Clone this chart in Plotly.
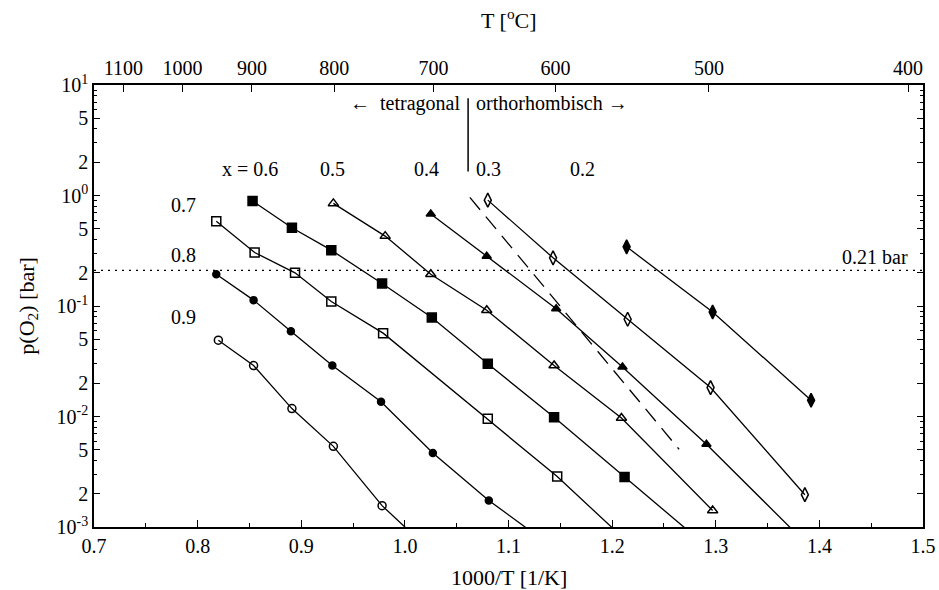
import math
import plotly.graph_objects as go

# ---- data (1000/T in 1/K, p(O2) in bar) ----
x09 = [0.820, 0.854, 0.891, 0.931, 0.978, 1.030]
p09 = [0.049, 0.0289, 0.0118, 0.00537, 0.00156, 0.000546]
x08 = [0.818, 0.854, 0.890, 0.930, 0.977, 1.027, 1.081, 1.135]
p08 = [0.194, 0.113, 0.0592, 0.029, 0.0136, 0.00467, 0.00174, 0.00074]
x07 = [0.818, 0.855, 0.894, 0.929, 0.979, 1.080, 1.147, 1.215]
p07 = [0.586, 0.305, 0.1995, 0.110, 0.0568, 0.00953, 0.00286, 0.00073]
x06 = [0.853, 0.891, 0.929, 0.978, 1.026, 1.080, 1.144, 1.212, 1.280]
p06 = [0.893, 0.51, 0.32, 0.16, 0.0787, 0.030, 0.00984, 0.00284, 0.00082]
x05 = [0.931, 0.981, 1.025, 1.079, 1.144, 1.209, 1.297]
p05 = [0.848, 0.429, 0.194, 0.0916, 0.0289, 0.00968, 0.00141]
x04 = [1.025, 1.079, 1.146, 1.210, 1.291, 1.380]
p04 = [0.681, 0.2825, 0.0945, 0.0281, 0.0056, 0.00083]
x03 = [1.080, 1.143, 1.215, 1.295, 1.386]
p03 = [0.908, 0.273, 0.0759, 0.01828, 0.00196]
x02 = [1.214, 1.297, 1.392]
p02 = [0.343, 0.0883, 0.01403]

series_x = [x09, x08, x07, x06, x05, x04, x03, x02]
series_p = [p09, p08, p07, p06, p05, p04, p03, p02]
series_names = ["x = 0.9", "x = 0.8", "x = 0.7", "x = 0.6", "x = 0.5", "x = 0.4", "x = 0.3", "x = 0.2"]
symbols = ["circle-open", "circle", "square-open", "square",
           "triangle-up-open", "triangle-up", "diamond-tall-open", "diamond-tall"]
sizes = [8, 7, 9, 9, 9, 8, 10, 10]

# phase boundary (dashed), air line, tetragonal/orthorhombic marker
dash_x = [1.0627, 1.2646]
dash_p = [0.961, 0.00505]
air_x = [0.7, 1.5]
air_p = [0.21, 0.21]
bound_x = [1.061, 1.061]
bound_p = [1.65, 7.6]

# top axis temperatures in °C
temps_c = [1100, 1000, 900, 800, 700, 600, 500, 400]
temp_pos = [1000.0 / (t + 273.15) for t in temps_c]

# y tick labels
y_major = [0.001, 0.002, 0.005, 0.01, 0.02, 0.05, 0.1, 0.2, 0.5, 1, 2, 5, 10]
y_major_text = ["10<sup>-3</sup>", "2", "5", "10<sup>-2</sup>", "2", "5",
                "10<sup>-1</sup>", "2", "5", "10<sup>0</sup>", "2", "5", "10<sup>1</sup>"]
y_minor = [m * 10 ** e for e in range(-3, 1) for m in (3, 4, 6, 7, 8, 9)]

# curve labels
lab_top_x = [0.8505, 0.9305, 1.0209, 1.081, 1.1713]
lab_top_text = ["x = 0.6", "0.5", "0.4", "0.3", "0.2"]
lab_top_p = 1.72
lab_left_x = 0.7868
lab_left_p = [0.818, 0.288, 0.0796]
lab_left_text = ["0.7", "0.8", "0.9"]

FONT = "Liberation Serif"
fs = 20

fig = go.Figure()

fig.add_trace(go.Scatter(x=air_x, y=air_p, mode="lines",
                         line=dict(color="black", width=1.3, dash="2px,5px"),
                         showlegend=False, hoverinfo="skip"))
fig.add_trace(go.Scatter(x=dash_x, y=dash_p, mode="lines",
                         line=dict(color="black", width=1.3, dash="16px,9px"),
                         showlegend=False, hoverinfo="skip"))
fig.add_trace(go.Scatter(x=bound_x, y=bound_p, mode="lines",
                         line=dict(color="black", width=1.5),
                         showlegend=False, hoverinfo="skip"))

for xs, ps, name, sym, sz in zip(series_x, series_p, series_names, symbols, sizes):
    fig.add_trace(go.Scatter(
        x=xs, y=ps, mode="lines+markers", name=name,
        line=dict(color="black", width=1.3),
        marker=dict(symbol=sym, size=sz, color="black",
                    line=dict(color="black", width=1.5)),
        cliponaxis=True, showlegend=False))

# invisible trace to activate the top axis
fig.add_trace(go.Scatter(x=[1.0], y=[1.0], xaxis="x2", mode="markers",
                         marker=dict(opacity=0), showlegend=False, hoverinfo="skip"))

axis_common = dict(showline=True, linecolor="black", linewidth=1.5, automargin=False,
                   showgrid=False, zeroline=False, ticks="inside",
                   tickcolor="black", tickfont=dict(family=FONT, size=fs, color="black"))

fig.update_layout(
    template="none",
    width=939, height=590,
    margin=dict(l=94, r=16, t=85, b=63, pad=0),
    paper_bgcolor="white", plot_bgcolor="white",
    font=dict(family=FONT, size=fs, color="black"),
    xaxis=dict(range=[0.7, 1.5], dtick=0.1, tick0=0.7, tickformat=".1f",
               ticklen=7, tickwidth=1, mirror=False,
               minor=dict(dtick=0.05, tick0=0.7, ticks="inside", ticklen=4,
                          tickcolor="black", showgrid=False),
               **axis_common),
    xaxis2=dict(range=[0.7, 1.5], overlaying="x", side="top", anchor="y",
                tickmode="array", tickvals=temp_pos, ticktext=[str(t) for t in temps_c],
                ticklen=7, tickwidth=1, **axis_common),
    yaxis=dict(type="log", range=[-3, 1], tickmode="array",
               tickvals=y_major, ticktext=y_major_text, ticklen=6, tickwidth=1,
               mirror="ticks",
               minor=dict(tickmode="array", tickvals=y_minor, ticks="inside",
                          ticklen=3, tickcolor="black", showgrid=False),
               **axis_common),
)

for xv, t in zip(lab_top_x, lab_top_text):
    fig.add_annotation(x=xv, y=math.log10(lab_top_p), text=t, showarrow=False,
                       xanchor="center", yanchor="middle",
                       font=dict(family=FONT, size=fs, color="black"))
for pv, t in zip(lab_left_p, lab_left_text):
    fig.add_annotation(x=lab_left_x, y=math.log10(pv), text=t, showarrow=False,
                       xanchor="center", yanchor="middle",
                       font=dict(family=FONT, size=fs, color="black"))

fig.add_annotation(x=1.487, y=math.log10(0.279), text="0.21 bar", showarrow=False,
                   xanchor="right", yanchor="middle",
                   font=dict(family=FONT, size=fs, color="black"))
fig.add_annotation(x=1.0551, y=math.log10(6.87), text="\u2190  tetragonal", showarrow=False,
                   xanchor="right", yanchor="middle",
                   font=dict(family=FONT, size=fs, color="black"))
fig.add_annotation(x=1.0669, y=math.log10(6.87), text="orthorhombisch \u2192", showarrow=False,
                   xanchor="left", yanchor="middle",
                   font=dict(family=FONT, size=fs, color="black"))

# axis titles
fig.add_annotation(xref="paper", yref="paper", x=0.5, y=-0.115, yanchor="middle",
                   text="1000/T [1/K]", showarrow=False,
                   font=dict(family=FONT, size=fs + 2, color="black"))
fig.add_annotation(xref="paper", yref="paper", x=0.5, y=1.15, yanchor="middle",
                   text="T [<sup>o</sup>C]", showarrow=False,
                   font=dict(family=FONT, size=fs + 2, color="black"))
fig.add_annotation(xref="paper", yref="paper", x=-0.08, y=0.5, xanchor="center",
                   textangle=-90, text="p(O<sub>2</sub>) [bar]", showarrow=False,
                   font=dict(family=FONT, size=fs + 2, color="black"))

fig.write_html("out.html")
